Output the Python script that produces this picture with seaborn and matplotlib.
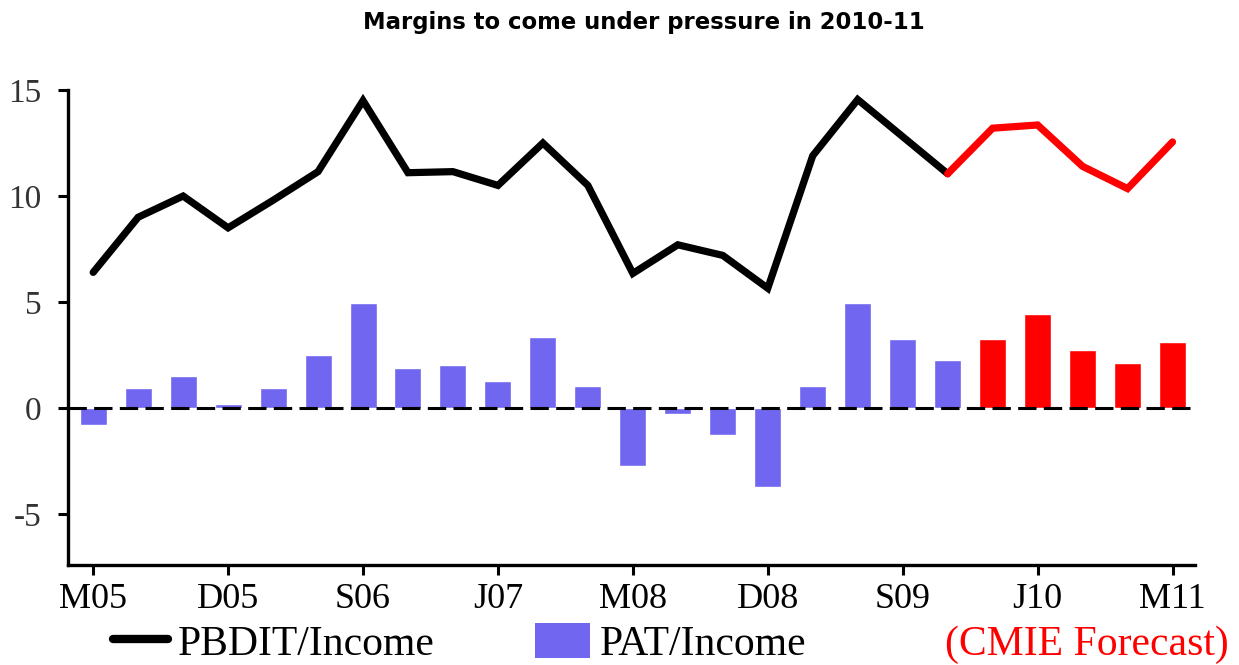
import pandas as pd
import matplotlib.pyplot as plt
import seaborn as sns
from matplotlib.lines import Line2D
from matplotlib.patches import Patch

# Quarters, Mar 2005 to Mar 2011
quarters = ['M05', 'J05', 'S05', 'D05', 'M06', 'J06', 'S06', 'D06', 'M07',
            'J07', 'S07', 'D07', 'M08', 'J08', 'S08', 'D08', 'M09', 'J09',
            'S09', 'D09', 'M10', 'J10', 'S10', 'D10', 'M11']
pbdit = [6.4, 9.0, 10.0, 8.5, 9.8, 11.15, 14.5, 11.1, 11.15, 10.5, 12.5, 10.5,
         6.35, 7.7, 7.2, 5.65, 11.9, 14.55, 12.8, 11.05, 13.2, 13.35, 11.4, 10.35, 12.55]
pat = [-0.82, 0.93, 1.49, 0.17, 0.93, 2.48, 4.94, 1.87, 2.01, 1.26, 3.33, 1.02,
       -2.74, -0.28, -1.27, -3.73, 1.02, 4.94, 3.24, 2.25, 3.24, 4.42, 2.72, 2.11, 3.10]
n_actual = 20  # M10 onwards is CMIE forecast
tick_labels = ['M05', 'D05', 'S06', 'J07', 'M08', 'D08', 'S09', 'J10', 'M11']

blue = '#7066F0'
red = '#FF0000'

df = pd.DataFrame({'quarter': quarters, 'pbdit': pbdit, 'pat': pat})
df['pos'] = range(len(df))
df['kind'] = ['Actual' if i < n_actual else 'Forecast' for i in df['pos']]

sns.set_style('ticks')
plt.rcParams['font.family'] = ['Liberation Serif', 'DejaVu Serif']
plt.rcParams['text.color'] = 'black'
plt.rcParams['xtick.color'] = 'black'
plt.rcParams['ytick.color'] = 'black'

fig = plt.figure(figsize=(12.39, 6.65), dpi=100)
ax = fig.add_axes([68 / 1239, 1 - 565 / 665, (1195 - 68) / 1239, (565 - 90) / 665])

sns.barplot(data=df, x='quarter', y='pat', hue='kind', order=quarters,
            palette={'Actual': blue, 'Forecast': red}, dodge=False, width=0.6,
            legend=False, ax=ax, saturation=1)

# PBDIT line: black for actuals, red for forecast (joined at D09)
actual = df[df['pos'] < n_actual]
fcst = df[df['pos'] >= n_actual - 1]
sns.lineplot(data=actual, x='pos', y='pbdit', color='black', lw=5.2, ax=ax,
             solid_joinstyle='miter')
sns.lineplot(data=fcst, x='pos', y='pbdit', color=red, lw=5.2, ax=ax,
             solid_joinstyle='miter')

ax.axhline(0, color='black', lw=2.2, ls=(0, (6, 2.4)), zorder=5)

ax.set_xlim(-0.56, 24.5)
ax.set_ylim(-7.4, 15)
ax.set_xticks([quarters.index(t) for t in tick_labels])
ax.set_xticklabels(tick_labels, fontsize=26)
ax.set_yticks([-5, 0, 5, 10, 15])
ax.set_yticklabels(['-5', '0', '5', '10', '15'], fontsize=24, color='#333333')
ax.set_xlabel('')
ax.set_ylabel('')
for s in ['top', 'right']:
    ax.spines[s].set_visible(False)
for s in ['left', 'bottom']:
    ax.spines[s].set_linewidth(2.4)
    ax.spines[s].set_color('black')
ax.tick_params(axis='both', direction='out', length=7, width=2.2, color='black')
ax.tick_params(axis='x', pad=6)
ax.tick_params(axis='y', pad=12)

fig.text(644 / 1239, 1 - 22 / 665, 'Margins to come under pressure in 2010-11',
         ha='center', va='center', fontsize=16.4, fontweight='bold',
         family='DejaVu Sans', color='black')

handles = [Line2D([0], [0], color='black', lw=6),
           Patch(facecolor=blue, edgecolor='none')]
fig.legend(handles, ['PBDIT/Income', 'PAT/Income'], ncol=2, frameon=False,
           loc='lower left', bbox_to_anchor=(113 / 1239, 1 / 665),
           fontsize=30, handlelength=1.32, handleheight=0.9, handletextpad=0.24,
           columnspacing=2.4, borderpad=0, borderaxespad=0)
fig.text(945 / 1239, 1 / 665, '(CMIE Forecast)', color=red, fontsize=30,
         ha='left', va='bottom')

fig.savefig('out.png', dpi=100)
